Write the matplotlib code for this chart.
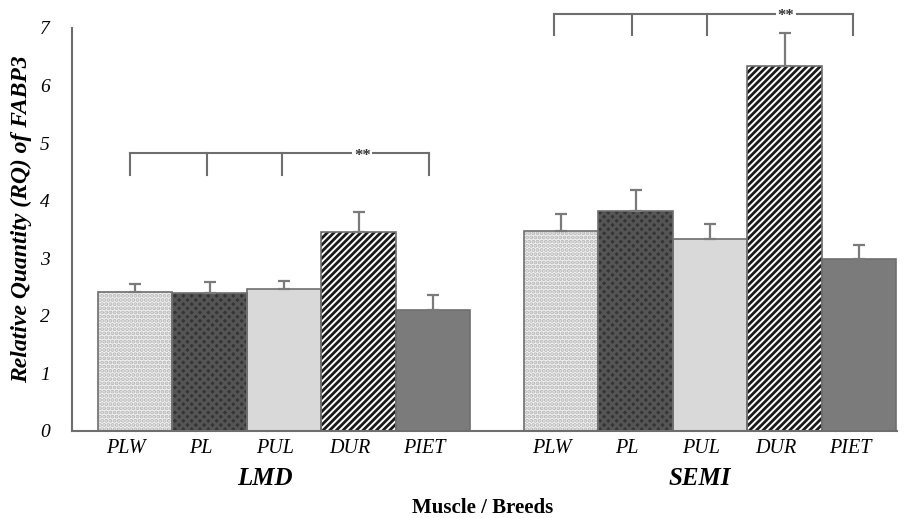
import matplotlib.pyplot as plt
import numpy as np

plt.rcParams['font.family'] = ['Liberation Serif', 'DejaVu Serif']
plt.rcParams['hatch.linewidth'] = 2.0

breeds = ["PLW", "PL", "PUL", "DUR", "PIET"]
muscles = ["LMD", "SEMI"]
rq_lmd = [2.41, 2.39, 2.46, 3.45, 2.10]
err_lmd = [0.15, 0.20, 0.14, 0.35, 0.27]
rq_semi = [3.48, 3.82, 3.33, 6.34, 2.98]
err_semi = [0.29, 0.36, 0.27, 0.57, 0.25]

faces = ["#f3f3f3", "#353535", "#d9d9d9", "#ffffff", "#7b7b7b"]
hatches = ["....", "xxxx", None, "/////", None]
hatch_cols = ["#b5b5b5", "#555555", "#d9d9d9", "#1a1a1a", "#7b7b7b"]


def make_figure():
    fig = plt.figure(figsize=(9.21, 5.18), dpi=100)
    ax = fig.add_axes([0.078, 0.168, 0.896, 0.778])
    return fig, ax


def add_bars(ax, x0, values, errors):
    x = x0 + np.arange(len(values))
    for i in range(len(values)):
        ax.bar(x[i], values[i], width=1.0, color=faces[i], hatch=hatches[i],
               edgecolor=hatch_cols[i], linewidth=0, zorder=2)
        ax.bar(x[i], values[i], width=1.0, fill=False,
               edgecolor="#6e6e6e", linewidth=1.2, zorder=3)
    ax.errorbar(x, values, yerr=[np.zeros(len(values)), errors], fmt="none",
                ecolor="#7a7a7a", elinewidth=1.6, capsize=4, capthick=1.6,
                zorder=4)
    return x


def add_bracket(ax, xs, star_x, y_top, y_bot):
    kw = dict(color="#6e6e6e", lw=1.5, clip_on=False, zorder=5)
    ax.plot([xs[0], star_x - 0.15], [y_top, y_top], **kw)
    ax.plot([star_x + 0.15, xs[-1]], [y_top, y_top], **kw)
    for xv in xs:
        ax.plot([xv, xv], [y_top, y_bot], **kw)
    ax.text(star_x, y_top - 0.04, "**", ha="center", va="center",
            fontsize=12, fontweight="bold", color="#333333", clip_on=False)


fig, ax = make_figure()
x_lmd = add_bars(ax, 0.0, rq_lmd, err_lmd)
x_semi = add_bars(ax, 5.72, rq_semi, err_semi)

add_bracket(ax, [x_lmd[0] - 0.07, x_lmd[1] - 0.03, x_lmd[2] - 0.03, x_lmd[4] - 0.05],
            x_lmd[3] + 0.05, 4.82, 4.44)
add_bracket(ax, [x_semi[0] - 0.09, x_semi[1] - 0.05, x_semi[2] - 0.04, x_semi[4] - 0.08],
            x_semi[3] + 0.02, 7.24, 6.88)

ax.set_xlim(-0.85, 10.23)
ax.set_ylim(0, 7)
ax.set_yticks(range(0, 8))
ax.set_yticklabels([str(v) for v in range(0, 8)], fontsize=14, style="italic")
ax.tick_params(axis="y", length=0, pad=16)
ax.tick_params(axis="x", length=0, pad=6)
ax.set_xticks(np.concatenate([x_lmd, x_semi]) - 0.12)
ax.set_xticklabels(breeds + breeds, fontsize=14.5, style="italic")

for side in ["top", "right"]:
    ax.spines[side].set_visible(False)
for side in ["left", "bottom"]:
    ax.spines[side].set_color("#6e6e6e")
    ax.spines[side].set_linewidth(1.5)

ax.text(1.74, -0.82, muscles[0], ha="center", va="center", fontsize=18,
        fontweight="bold", style="italic")
ax.text(7.58, -0.82, muscles[1], ha="center", va="center", fontsize=18,
        fontweight="bold", style="italic")
ax.text(4.67, -1.33, "Muscle / Breeds", ha="center", va="center",
        fontsize=15, fontweight="bold")
ax.set_ylabel("Relative Quantity (RQ) of FABP3", fontsize=17,
              fontweight="bold", style="italic")
ax.yaxis.set_label_coords(-0.048, 0.525)

fig.savefig("out.png", dpi=100)
